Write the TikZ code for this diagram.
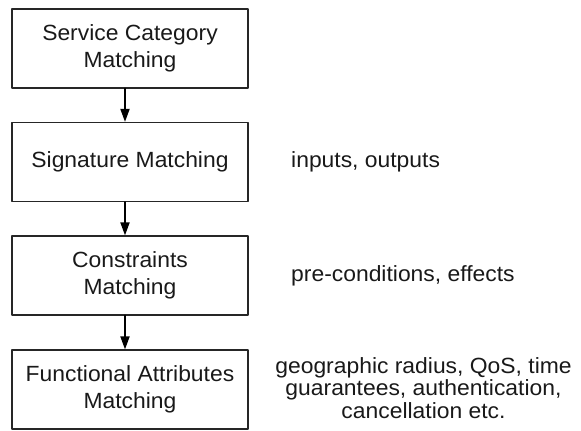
\documentclass[tikz,border=0pt]{standalone}
\usepackage{fontspec}
\setmainfont{Liberation Sans}[FakeStretch=1.04]
\usetikzlibrary{arrows.meta,positioning}

\begin{document}
\begin{tikzpicture}[x=1pt,y=-1pt,line cap=round,line join=round,
  stage/.style={draw=black!85,line width=1.2pt,minimum width=236pt,minimum height=79pt,
    align=center,inner sep=0pt,text=black!90,font=\fontsize{22}{26.7}\selectfont},
  note/.style={align=center,inner sep=0pt,text=black!90,font=\fontsize{22}{22.4}\selectfont},
  flow/.style={draw=black,line width=1.8pt,-{Triangle[length=13pt,width=9pt]}}]
\path[use as bounding box] (0,0) rectangle (581,431);
% matching stages
\node[stage] (category) at (130,48.5) {Service Category\\Matching};
\node[stage] (signature) at (130,162) {Signature Matching};
\node[stage] (constraints) at (130,275.5) {Constraints\\Matching};
\node[stage] (functional) at (130,389.5) {Functional Attributes\\Matching};
% what each stage looks at
\node[note,anchor=west] (sigtext) at (291,162) {inputs, outputs};
\node[note,anchor=west] (context) at (291,275.5) {pre-conditions, effects};
\node[note] (functext) at (423.5,388) {geographic radius, QoS, time\\guarantees, authentication,\\cancellation etc.};
\draw[flow] ([xshift=-5pt]category.south) -- ([xshift=-5pt]signature.north);
\draw[flow] ([xshift=-5pt]signature.south) -- ([xshift=-5pt]constraints.north);
\draw[flow] ([xshift=-5pt]constraints.south) -- ([xshift=-5pt]functional.north);
\end{tikzpicture}
\end{document}
